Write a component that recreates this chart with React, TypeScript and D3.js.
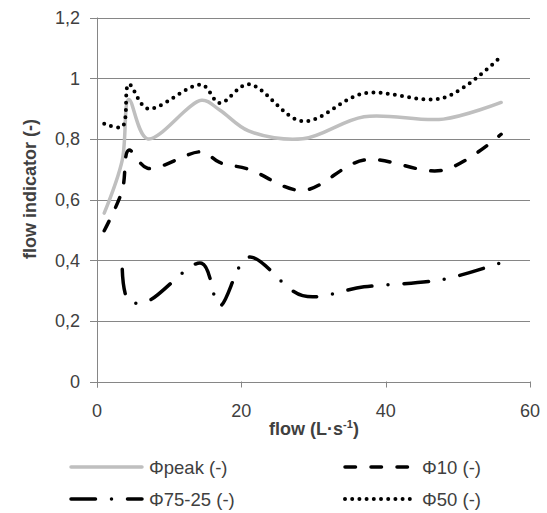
import React from "react";
import * as d3 from "d3";

// flow (L/s) at which every indicator was evaluated
const flow = [1, 3.5, 4.4, 7, 14.5, 17, 21, 28.5, 37, 48, 56];

const phiPeak = [0.555, 0.73, 0.93, 0.8, 0.927, 0.895, 0.826, 0.8, 0.873, 0.865, 0.92];
const phi10 = [0.497, 0.63, 0.763, 0.703, 0.757, 0.722, 0.7, 0.63, 0.73, 0.697, 0.815];
const phi7525 = [null, 0.37, 0.265, 0.265, 0.39, 0.25, 0.41, 0.283, 0.312, 0.337, 0.392];
const phi50 = [0.85, 0.84, 0.98, 0.9, 0.978, 0.918, 0.98, 0.858, 0.95, 0.935, 1.072];

const xTicks = [0, 20, 40, 60];
const yTicks = [0, 0.2, 0.4, 0.6, 0.8, 1, 1.2];

const series = [
  { name: "Φpeak (-)", values: phiPeak, color: "#bfbfbf", width: 3.5, dash: null },
  { name: "Φ10 (-)", values: phi10, color: "#000", width: 3.5, dash: "10.5 15.5" },
  { name: "Φ75-25 (-)", values: phi7525, color: "#000", width: 3.5, dash: "24.5 16 0 16" },
  { name: "Φ50 (-)", values: phi50, color: "#000", width: 4, dash: "0 7.2" },
];

const W = 547;
const H = 513;
const font = "'Liberation Sans', Arial, sans-serif";
const gridColor = "#868686";
const textColor = "#404040";

export default function App() {
  const x = d3.scaleLinear().domain([0, 60]).range([97, 530]);
  const y = d3.scaleLinear().domain([0, 1.2]).range([381.5, 17.5]);

  const line = d3
    .line<number | null>()
    .defined((d) => d != null)
    .x((d, i) => x(flow[i]))
    .y((d) => y(d as number))
    .curve(d3.curveCatmullRom.alpha(0.5));

  const fmt = (v: number) => String(Math.round(v * 10) / 10).replace(".", ",");

  // legend slots: [lineStart, lineEnd, textX, rowY]
  const legendPos = [
    [71, 142, 149, 467],
    [345, 413, 422, 467],
    [71, 142, 149, 499],
    [345, 413, 422, 499],
  ];

  return (
    <svg
      width={W}
      height={H}
      style={{ position: "absolute", left: 0, top: 0, background: "#fff" }}
      fontFamily={font}
    >
      {/* grid */}
      {yTicks.map((t) => (
        <line key={t} x1={90} x2={530} y1={Math.round(y(t)) + 0.5} y2={Math.round(y(t)) + 0.5} stroke={gridColor} />
      ))}
      <line x1={97.5} x2={97.5} y1={y(1.2)} y2={y(0) + 6} stroke={gridColor} />
      {xTicks.map((t) => (
        <line key={t} x1={Math.round(x(t)) + 0.5} x2={Math.round(x(t)) + 0.5} y1={y(0)} y2={y(0) + 6} stroke={gridColor} />
      ))}

      {/* tick labels */}
      {yTicks.map((t) => (
        <text key={t} x={80} y={y(t) + 6.5} textAnchor="end" fontSize={18} fill={textColor}>
          {fmt(t)}
        </text>
      ))}
      {xTicks.map((t) => (
        <text key={t} x={x(t)} y={417} textAnchor="middle" fontSize={18} fill={textColor}>
          {t}
        </text>
      ))}

      {/* axis titles */}
      <text
        transform="translate(36,189) rotate(-90)"
        textAnchor="middle"
        fontSize={18}
        fontWeight="bold"
        fill={textColor}
      >
        flow indicator (-)
      </text>
      <text x={314} y={435} textAnchor="middle" fontSize={18} fontWeight="bold" fill={textColor}>
        flow (L·s
        <tspan fontSize={11} dy={-7}>-1</tspan>
        <tspan dy={7}>)</tspan>
      </text>

      {/* series */}
      {series.map((s) => (
        <path
          key={s.name}
          d={line(s.values) || ""}
          fill="none"
          stroke={s.color}
          strokeWidth={s.width}
          strokeLinecap="round"
          strokeLinejoin="round"
          strokeDasharray={s.dash || undefined}
        />
      ))}

      {/* legend */}
      {series.map((s, i) => {
        const [x1, x2, tx, ly] = legendPos[i];
        return (
          <g key={s.name}>
            <line
              x1={x1}
              x2={x2}
              y1={ly}
              y2={ly}
              stroke={s.color}
              strokeWidth={s.width}
              strokeLinecap="round"
              strokeDasharray={s.dash || undefined}
            />
            <text x={tx} y={ly + 6.5} fontSize={18.5} fill={textColor}>
              {s.name}
            </text>
          </g>
        );
      })}
    </svg>
  );
}
